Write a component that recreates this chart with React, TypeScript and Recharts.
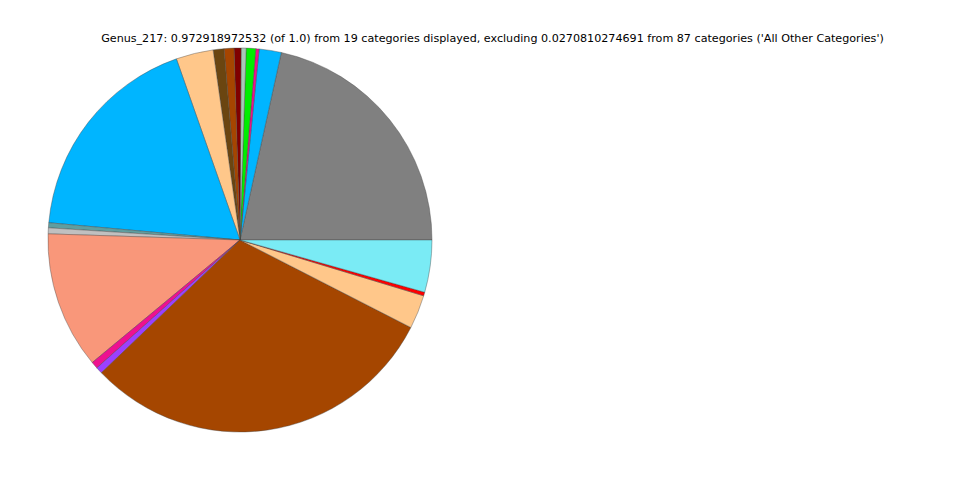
import React from 'react';
import { PieChart, Pie, Cell } from 'recharts';

const genus = [
  'g1', 'g2', 'g3', 'g4', 'g5', 'g6', 'g7', 'g8', 'g9', 'g10',
  'g11', 'g12', 'g13', 'g14', 'g15', 'g16', 'g17', 'g18', 'g19',
];
const shares = [
  0.2097, 0.0181, 0.0027, 0.0078, 0.0041, 0.0057, 0.0081, 0.0089, 0.0305, 0.177,
  0.0041, 0.0049, 0.1122, 0.0057, 0.0054, 0.2949, 0.0276, 0.003, 0.0427,
];
const colors = [
  '#808080', '#00b5ff', '#ee1090', '#00ee00', '#a8c8b8', '#800000', '#a64500', '#6b4510', '#ffc78a', '#00b5ff',
  '#5f9ea0', '#c0c0c0', '#f9977a', '#ee1090', '#9b40ff', '#a54600', '#ffc78a', '#ff0000', '#7aebf5',
];

const title =
  "Genus_217: 0.972918972532 (of 1.0) from 19 categories displayed, excluding 0.0270810274691 from 87 categories ('All Other Categories')";

const rows = genus.map((name, i) => ({ name, value: shares[i] }));

export default function App() {
  return (
    <div style={{ position: 'absolute', left: 0, top: 0, width: 960, height: 480, background: '#fff' }}>
      <div
        style={{
          position: 'absolute',
          left: 0,
          width: 985,
          top: 32,
          textAlign: 'center',
          fontFamily: 'DejaVu Sans',
          fontSize: 11.15,
          color: '#000',
          whiteSpace: 'nowrap',
        }}
      >
        {title}
      </div>
      <PieChart width={960} height={480} margin={{ top: 0, right: 0, bottom: 0, left: 0 }}>
        <Pie
          data={rows}
          dataKey="value"
          nameKey="name"
          cx={240}
          cy={240}
          outerRadius={192}
          startAngle={0}
          endAngle={360}
          stroke="#444"
          strokeWidth={0.4}
          isAnimationActive={false}
        >
          {rows.map((r, i) => (
            <Cell key={r.name} fill={colors[i]} />
          ))}
        </Pie>
      </PieChart>
    </div>
  );
}
